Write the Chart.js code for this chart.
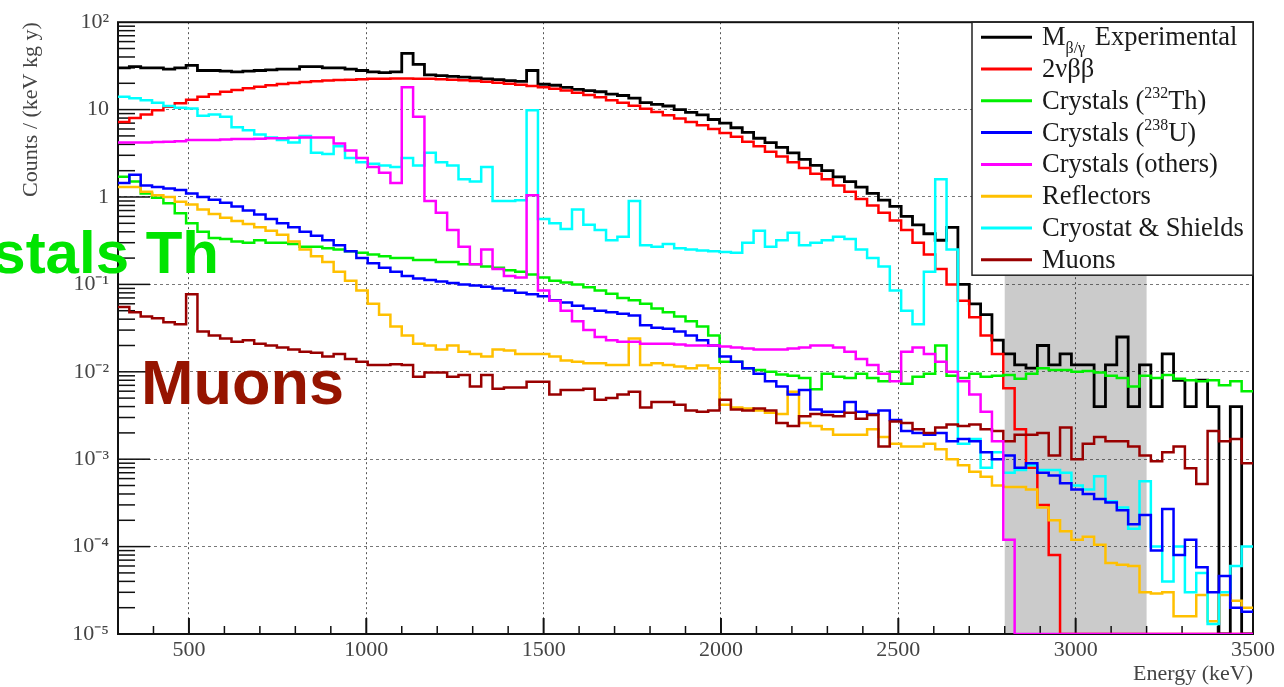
<!DOCTYPE html>
<html>
<head>
<meta charset="utf-8">
<title>Spectre M1 β/γ</title>
<script src="https://cdn.jsdelivr.net/npm/chart.js@4.4.1/dist/chart.umd.min.js"></script>
<style>
  html, body { margin: 0; padding: 0; background: #fff; }
  canvas { display: block; }
</style>
</head>
<body>
<canvas id="spectrum" width="1284" height="687"></canvas>
<script>
// ==== Binning (keV)
const E_MIN = 300;
const E_MAX = 3500;
const BIN_WIDTH = 32;

// ==== ROI (keV)
const ROI = [2800, 3200];

// ==== Axes
const X_TICKS = [500, 1000, 1500, 2000, 2500, 3000, 3500];
const Y_TICKS = [1e-5, 1e-4, 1e-3, 1e-2, 1e-1, 1, 10, 100];
const Y_TICK_LABELS = ["10⁻⁵", "10⁻⁴", "10⁻³", "10⁻²", "10⁻¹", "1", "10", "10²"];
const Y_MIN = 1e-5;
const Y_MAX = 100;

// ==== Spectres : counts / (keV kg y), un point par bin de 32 keV depuis 300 keV
const experimental = [
  30, 31, 30, 30, 29, 30, 32, 28, 28, 27.5,
  27, 27.5, 28, 28.5, 29, 29, 31, 31, 30, 30,
  29, 28, 27, 26.5, 27, 44, 33, 25, 24.5, 24,
  23.5, 23, 22.5, 22, 21.5, 21, 28, 19.5, 19, 18,
  17, 16.5, 16, 15, 14.5, 13.5, 12, 11.5, 11, 10,
  9.3, 8.7, 7.7, 7, 6.2, 5.5, 4.7, 4.2, 3.7, 3.2,
  2.7, 2.3, 2.0, 1.7, 1.5, 1.3, 1.1, 0.92, 0.78, 0.6,
  0.48, 0.38, 0.32, 0.45, 0.1, 0.06, 0.045, 0.023, 0.016, 0.012,
  0.011, 0.02, 0.012, 0.016, 0.012, 0.012, 0.004, 0.012, 0.025, 0.004,
  0.012, 0.004, 0.016, 0.008, 0.004, 0.008, 0.004, 0, 0.004, 0
];
const twoNuBB = [
  7.2, 8.0, 8.8, 9.8, 10.8, 11.8, 13, 14, 15, 16,
  16.8, 17.5, 18.3, 19, 19.6, 20.2, 20.7, 21.1, 21.5, 21.8,
  22, 22.3, 22.5, 22.6, 22.7, 22.7, 22.6, 22.5, 22.3, 22,
  21.7, 21.3, 20.8, 20.3, 19.8, 19.2, 18.6, 18, 17.3, 16.5,
  15.6, 14.7, 13.8, 12.8, 12, 11.1, 10.2, 9.4, 8.6, 7.9,
  7.2, 6.6, 6.0, 5.4, 4.9, 4.3, 3.8, 3.3, 2.9, 2.5,
  2.15, 1.85, 1.6, 1.35, 1.15, 0.95, 0.8, 0.66, 0.54, 0.42,
  0.3, 0.22, 0.15, 0.1, 0.065, 0.042, 0.026, 0.016, 0.0065, 0.0022,
  0.0008, 0.0003, 0.00008, 0, 0, 0, 0, 0, 0, 0,
  0, 0, 0, 0, 0, 0, 0, 0, 0, 0
];
const crystalsTh = [
  1.7, 1.5, 1.1, 0.98, 0.85, 0.65, 0.5, 0.4, 0.34, 0.33,
  0.31, 0.3, 0.32, 0.3, 0.3, 0.29, 0.27, 0.27, 0.26, 0.25,
  0.24, 0.23, 0.22, 0.21, 0.2, 0.2, 0.19, 0.19, 0.18, 0.18,
  0.17, 0.17, 0.16, 0.155, 0.145, 0.14, 0.13, 0.12, 0.11, 0.105,
  0.1, 0.093, 0.085, 0.078, 0.07, 0.066, 0.06, 0.053, 0.048, 0.043,
  0.038, 0.033, 0.026, 0.013, 0.013, 0.011, 0.0105, 0.01, 0.0093, 0.009,
  0.0085, 0.0063, 0.0095, 0.0088, 0.0085, 0.0095, 0.0085, 0.0078, 0.01, 0.0073,
  0.0088, 0.0095, 0.02, 0.009, 0.0085, 0.0095, 0.0088, 0.009, 0.0092, 0.0083,
  0.0095, 0.011, 0.0105, 0.0105, 0.01, 0.0102, 0.0098, 0.009, 0.0085, 0.0068,
  0.009, 0.0085, 0.0092, 0.0083, 0.008, 0.0078, 0.008, 0.007, 0.0078, 0.006
];
const crystalsU = [
  1.45, 1.8, 1.35, 1.3, 1.25, 1.2, 1.1, 1.0, 0.93, 0.86,
  0.78, 0.7, 0.63, 0.56, 0.5, 0.45, 0.4, 0.36, 0.32, 0.28,
  0.24, 0.2, 0.175, 0.155, 0.14, 0.125, 0.117, 0.112, 0.108, 0.104,
  0.1, 0.097, 0.094, 0.09, 0.085, 0.08, 0.077, 0.073, 0.066, 0.062,
  0.057, 0.053, 0.05, 0.048, 0.046, 0.044, 0.034, 0.032, 0.031, 0.029,
  0.026, 0.023, 0.02, 0.015, 0.013, 0.011, 0.0095, 0.0078, 0.0068, 0.0055,
  0.0062, 0.0037, 0.0035, 0.0035, 0.0045, 0.0035, 0.0033, 0.0036, 0.0028, 0.0021,
  0.002, 0.0019, 0.002, 0.0016, 0.0017, 0.0016, 0.0012, 0.001, 0.0011, 0.0008,
  0.0009, 0.0007, 0.00065, 0.00053, 0.00045, 0.0004, 0.00035, 0.00032, 0.00026, 0.00018,
  0.00023, 0.00009, 0.00027, 0.00008, 0.00012, 0.000058, 0.00003, 0.000046, 0.00002, 0.000018
];
const crystalsOthers = [
  4.2, 4.2, 4.2, 4.25, 4.3, 4.35, 4.5, 4.5, 4.5, 4.55,
  4.6, 4.6, 4.65, 4.7, 4.7, 4.75, 4.8, 4.8, 4.8, 4.1,
  3.4, 2.8, 2.2, 1.9, 1.45, 18, 8.3, 0.9, 0.66, 0.42,
  0.27, 0.17, 0.25, 0.15, 0.125, 0.12, 1.05, 0.085, 0.065, 0.05,
  0.038, 0.03, 0.025, 0.023, 0.022, 0.022, 0.021, 0.021, 0.021, 0.0205,
  0.02, 0.02, 0.02, 0.0195, 0.019, 0.0185, 0.018, 0.018, 0.018, 0.0185,
  0.019, 0.02, 0.02, 0.019, 0.017, 0.014, 0.012, 0.0095, 0.0078, 0.017,
  0.019, 0.016, 0.013, 0.01, 0.0078, 0.0055, 0.0035, 0.0016, 0.00012, 0,
  0, 0, 0, 0, 0, 0, 0, 0, 0, 0,
  0, 0, 0, 0, 0, 0, 0, 0, 0, 0
];
const reflectors = [
  1.3, 1.3, 1.15, 1.05, 1.0, 0.88, 0.82, 0.72, 0.64, 0.58,
  0.53, 0.49, 0.45, 0.41, 0.37, 0.31, 0.25, 0.21, 0.18, 0.14,
  0.11, 0.085, 0.06, 0.045, 0.033, 0.026, 0.021, 0.02, 0.018, 0.02,
  0.017, 0.016, 0.015, 0.018, 0.0175, 0.016, 0.016, 0.016, 0.015, 0.0135,
  0.013, 0.0125, 0.0125, 0.012, 0.012, 0.024, 0.012, 0.0125, 0.012, 0.0115,
  0.011, 0.0118, 0.011, 0.0042, 0.0039, 0.0038, 0.0036, 0.0034, 0.0033, 0.0059,
  0.0026, 0.0024, 0.0022, 0.0019, 0.0019, 0.0019, 0.0022, 0.0018, 0.0015, 0.0014,
  0.0014, 0.0015, 0.0013, 0.001, 0.00085, 0.00072, 0.00063, 0.0005, 0.00048, 0.00048,
  0.00045, 0.00028, 0.0002, 0.00015, 0.00012, 0.00013, 0.000105, 0.000065, 0.000062, 0.00006,
  0.00003, 0.000029, 0.00003, 0.000016, 0.000016, 0.000028, 0.000014, 0.000028, 0.000024, 0.00002
];
const cryostat = [
  14, 13.5, 12.8, 12, 11, 10.5, 10.3, 8.5, 8.8, 8.3,
  6.3, 5.8, 5.2, 4.8, 4.5, 4.2, 5.0, 3.2, 3.1, 3.8,
  2.8, 2.5, 2.4, 2.3, 2.2, 2.8, 2.3, 3.2, 2.5, 2.3,
  1.6, 1.5, 2.2, 0.9, 0.9, 0.92, 9.8, 0.56, 0.5, 0.43,
  0.72, 0.48, 0.42, 0.32, 0.35, 0.9, 0.28, 0.27, 0.29, 0.26,
  0.25, 0.245, 0.24, 0.235, 0.23, 0.3, 0.41, 0.27, 0.32, 0.39,
  0.28, 0.3, 0.32, 0.35, 0.33, 0.25, 0.2, 0.16, 0.085, 0.05,
  0.035, 0.14, 1.6, 0.25, 0.0015, 0.0017, 0.0008, 0.0012, 0.0007, 0.00075,
  0.00085, 0.00075, 0.00075, 0.0007, 0.0005, 0.00045, 0.00064, 0.00033, 0.00028, 0.00016,
  0.00056, 0.0001, 0.00004, 0.0001, 0.00003, 0.00005, 0.000013, 0.00003, 0.00006, 0.0001
];
const muons = [
  0.055, 0.048, 0.043, 0.041, 0.037, 0.035, 0.077, 0.029, 0.026, 0.024,
  0.022, 0.023, 0.021, 0.02, 0.019, 0.018, 0.017, 0.0165, 0.015, 0.016,
  0.014, 0.013, 0.012, 0.012, 0.0122, 0.012, 0.0088, 0.0098, 0.0098, 0.0088,
  0.0092, 0.0068, 0.0092, 0.0064, 0.0066, 0.0066, 0.0077, 0.0077, 0.0055, 0.0062,
  0.0062, 0.0064, 0.0048, 0.005, 0.0055, 0.0059, 0.0039, 0.0045, 0.0045, 0.0042,
  0.0036, 0.0035, 0.0036, 0.0048, 0.0037, 0.0036, 0.0038, 0.0036, 0.0026, 0.0024,
  0.0031, 0.0033, 0.0032, 0.0031, 0.0034, 0.0029, 0.0032, 0.0014, 0.0027, 0.0026,
  0.0022, 0.002, 0.0023, 0.0025, 0.0024, 0.0025, 0.0022, 0.0021, 0.0016, 0.0019,
  0.0019, 0.002, 0.0011, 0.0023, 0.001, 0.0015, 0.0018, 0.0016, 0.0016, 0.0014,
  0.0011, 0.00095, 0.0012, 0.0014, 0.00079, 0.00052, 0.0021, 0.0016, 0.0017, 0.0009
];

// ==== Légende (ordre d'affichage) et couleurs
const SERIES = [experimental, twoNuBB, crystalsTh, crystalsU, crystalsOthers, reflectors, cryostat, muons];
const LABELS = [
  "M_{β/γ} Experimental", "2νββ", "Crystals (^{232}Th)", "Crystals (^{238}U)",
  "Crystals (others)", "Reflectors", "Cryostat & Shields", "Muons"
];
const COLORS = ["#000000", "#ff0000", "#00f000", "#0000ff", "#ff00ff", "#ffc000", "#00ffff", "#990000"];
const DRAW_ORDER = [8, 7, 6, 3, 1, 5, 4, 2]; // petit = dessiné au-dessus

const SERIF = '"Liberation Serif", "Times New Roman", serif';
const SANS = '"Liberation Sans", Arial, Helvetica, sans-serif';

// ==== Helpers
function toSteps(values) {
  // bin vide -> posé sur le plancher de l'axe, comme ROOT
  const pts = values.map((v, i) => ({ x: E_MIN + i * BIN_WIDTH, y: v > 0 ? v : Y_MIN }));
  pts.push({ x: E_MAX, y: pts[pts.length - 1].y });
  return pts;
}

function drawRich(ctx, text, x, y, size) {
  const parts = text.split(/([_^]\{[^}]*\})/);
  let cx = x;
  parts.forEach((p) => {
    if (!p) return;
    let s = p, fs = size, dy = 0;
    if (p[0] === "^") { s = p.slice(2, -1); fs = size * 0.6; dy = -size * 0.4; }
    else if (p[0] === "_") { s = p.slice(2, -1); fs = size * 0.6; dy = size * 0.28; }
    ctx.font = `${fs}px ${SERIF}`;
    ctx.fillText(s, cx, y + dy);
    cx += ctx.measureText(s).width + (p[0] === "_" ? 3 : 0);
  });
}

function line(ctx, x1, y1, x2, y2) {
  ctx.beginPath();
  ctx.moveTo(x1, y1);
  ctx.lineTo(x2, y2);
  ctx.stroke();
}

// ==== Plugin style ROOT : bande ROI, cadre, graduations internes, légende, annotations
const rootStyle = {
  id: "rootStyle",
  beforeDraw(chart) {
    const { ctx, chartArea: a, scales } = chart;
    ctx.save();
    ctx.fillStyle = "#ffffff";
    ctx.fillRect(0, 0, chart.width, chart.height);
    const x1 = scales.x.getPixelForValue(ROI[0]);
    const x2 = scales.x.getPixelForValue(ROI[1]);
    ctx.fillStyle = "#cbcbcb";
    ctx.fillRect(x1, a.top, x2 - x1, a.bottom - a.top);
    ctx.restore();
  },
  beforeDatasetsDraw(chart) {
    const { ctx, chartArea: a, scales } = chart;
    ctx.save();
    ctx.strokeStyle = "#111";

    // graduations Y (log)
    ctx.lineWidth = 1.5;
    for (let d = -5; d < 2; d++) {
      for (let m = 1; m < 10; m++) {
        const py = scales.y.getPixelForValue(m * Math.pow(10, d));
        line(ctx, a.left, py, a.left + (m === 1 ? 32 : 17), py);
      }
    }
    // graduations X
    for (let e = 400; e < E_MAX; e += 100) {
      const px = scales.x.getPixelForValue(e);
      ctx.lineWidth = e % 500 === 0 ? 2 : 1.5;
      line(ctx, px, a.bottom, px, a.bottom - (e % 500 === 0 ? 16 : 8));
    }

    // cadre
    ctx.lineWidth = 2;
    ctx.strokeRect(a.left, a.top, a.right - a.left, a.bottom - a.top);
    ctx.restore();
  },
  afterDatasetsDraw(chart) {
    const { ctx, chartArea: a } = chart;
    ctx.save();
    // légende
    const lx = a.right - 281, ly = a.top, lw = 281, lh = 253;
    ctx.fillStyle = "#ffffff";
    ctx.fillRect(lx, ly, lw, lh);
    ctx.lineWidth = 1.5;
    ctx.strokeStyle = "#222";
    ctx.strokeRect(lx, ly, lw, lh);
    ctx.textBaseline = "alphabetic";
    LABELS.forEach((lab, i) => {
      const cy = ly + 15 + i * 31.8;
      ctx.strokeStyle = COLORS[i];
      ctx.lineWidth = 3;
      line(ctx, lx + 9, cy, lx + 60, cy);
      ctx.fillStyle = "#1a1a1a";
      drawRich(ctx, lab, lx + 70, cy + 8, 26.5);
    });
    ctx.restore();
  },
  afterDraw(chart) {
    const { ctx } = chart;
    ctx.save();
    ctx.textBaseline = "alphabetic";
    ctx.font = `bold 60px ${SANS}`;
    ctx.fillStyle = "#00e400";
    ctx.textAlign = "right";
    ctx.fillText("Crystals Th", 219, 273);
    ctx.font = `bold 63px ${SANS}`;
    ctx.fillStyle = "#961400";
    ctx.textAlign = "left";
    ctx.fillText("Muons", 141, 404);
    ctx.restore();
  },
};

// ==== Graphique
const datasets = SERIES.map((values, i) => ({
  label: LABELS[i],
  data: toSteps(values),
  borderColor: COLORS[i],
  backgroundColor: COLORS[i],
  borderWidth: i === 0 ? 2.8 : 2.5,
  pointRadius: 0,
  stepped: "before",
  tension: 0,
  fill: false,
  order: DRAW_ORDER[i],
}));

const tickFont = { family: SERIF, size: 22 };

new Chart(document.getElementById("spectrum").getContext("2d"), {
  type: "line",
  data: { datasets },
  plugins: [rootStyle],
  options: {
    responsive: false,
    animation: false,
    devicePixelRatio: 1,
    layout: { padding: { top: 18, right: 31, left: 0, bottom: 0 } },
    plugins: { legend: { display: false }, tooltip: { enabled: false } },
    scales: {
      x: {
        type: "linear",
        min: E_MIN,
        max: E_MAX,
        afterBuildTicks: (scale) => { scale.ticks = X_TICKS.map((v) => ({ value: v })); },
        afterFit: (scale) => { scale.height = 53; },
        ticks: {
          font: tickFont, color: "#444", padding: 3, maxRotation: 0, autoSkip: false,
          callback: (v) => String(v),
        },
        grid: { color: "rgba(30,30,30,0.75)", lineWidth: 1, drawTicks: false },
        border: { display: false, dash: [2, 3] },
        title: {
          display: true, text: "Energy (keV)", align: "end", color: "#444",
          font: { family: SERIF, size: 22 }, padding: { top: 0, bottom: 0 },
        },
      },
      y: {
        type: "logarithmic",
        min: Y_MIN,
        max: Y_MAX,
        afterBuildTicks: (scale) => { scale.ticks = Y_TICKS.map((v) => ({ value: v })); },
        afterFit: (scale) => { scale.width = 118; },
        ticks: { font: tickFont, color: "#444", padding: 9, callback: (v, i) => Y_TICK_LABELS[i] },
        grid: { color: "rgba(30,30,30,0.6)", lineWidth: 1, drawTicks: false },
        border: { display: false, dash: [3, 3] },
        title: {
          display: true, text: "Counts / (keV kg y)", align: "end", color: "#444",
          font: { family: SERIF, size: 22 }, padding: { top: 18, bottom: 0 },
        },
      },
    },
  },
});
</script>
</body>
</html>
